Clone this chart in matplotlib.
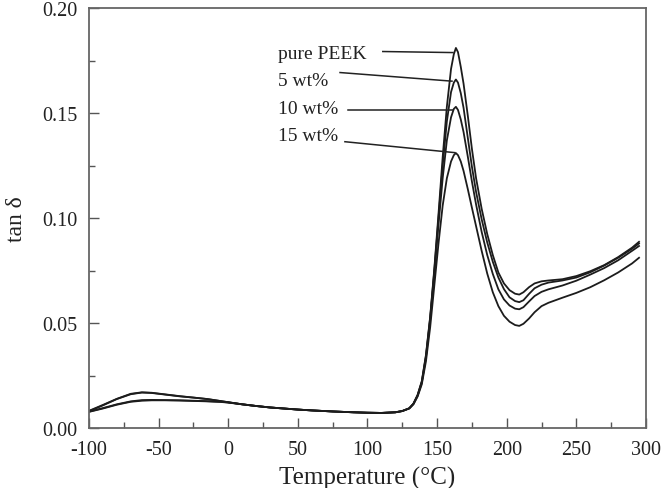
import matplotlib
matplotlib.use('Agg')
import matplotlib.pyplot as plt
from matplotlib.ticker import MultipleLocator, FormatStrFormatter

plt.rcParams['font.family'] = ['Liberation Serif', 'DejaVu Serif']
plt.rcParams['axes.unicode_minus'] = False

# temperature grid (°C)
temp = [-100, -90, -80, -70, -62, -55, -45, -35, -25, -15,
        -5, 0, 10, 20, 30, 40, 50, 60, 75, 90,
        100, 110, 120, 125, 130, 133, 136, 139, 142, 145,
        148, 151, 154, 157, 160, 162, 163.5, 165, 167, 169,
        172, 175, 178, 182, 186, 190, 194, 198, 202, 206,
        209, 212, 216, 220, 225, 230, 240, 250, 260, 270,
        280, 290, 295]

# tan delta
pure_peek = [0.0082, 0.0110, 0.0140, 0.0163, 0.0171, 0.0169, 0.0161, 0.0153, 0.0147, 0.0140,
             0.0130, 0.0125, 0.0115, 0.0107, 0.0100, 0.0095, 0.0090, 0.0086, 0.0081, 0.0077,
             0.0075, 0.0074, 0.0077, 0.0083, 0.0096, 0.0118, 0.0160, 0.0225, 0.0350, 0.0530,
             0.0760, 0.1020, 0.1290, 0.1530, 0.1710, 0.1780, 0.1810, 0.1790, 0.1720, 0.1640,
             0.1490, 0.1330, 0.1190, 0.1045, 0.0925, 0.0825, 0.0742, 0.0690, 0.0658, 0.0641,
             0.0637, 0.0648, 0.0672, 0.0690, 0.0700, 0.0704, 0.0710, 0.0725, 0.0748, 0.0777,
             0.0815, 0.0860, 0.0888]
wt5 = [0.0084, 0.0112, 0.0141, 0.0165, 0.0172, 0.0170, 0.0162, 0.0154, 0.0147, 0.0140,
       0.0130, 0.0125, 0.0115, 0.0107, 0.0100, 0.0095, 0.0090, 0.0086, 0.0081, 0.0077,
       0.0075, 0.0074, 0.0077, 0.0083, 0.0096, 0.0118, 0.0158, 0.0222, 0.0345, 0.0525,
       0.0750, 0.1000, 0.1250, 0.1460, 0.1600, 0.1645, 0.1660, 0.1645, 0.1595, 0.1525,
       0.1385, 0.1245, 0.1125, 0.0995, 0.0885, 0.0793, 0.0718, 0.0663, 0.0624, 0.0606,
       0.0601, 0.0610, 0.0640, 0.0667, 0.0684, 0.0694, 0.0704, 0.0718, 0.0743, 0.0775,
       0.0812, 0.0855, 0.0880]
wt10 = [0.0080, 0.0097, 0.0115, 0.0129, 0.0135, 0.0136, 0.0135, 0.0134, 0.0132, 0.0130,
        0.0127, 0.0124, 0.0115, 0.0107, 0.0100, 0.0095, 0.0090, 0.0086, 0.0081, 0.0077,
        0.0075, 0.0074, 0.0077, 0.0083, 0.0096, 0.0117, 0.0156, 0.0218, 0.0338, 0.0515,
        0.0735, 0.0970, 0.1190, 0.1370, 0.1480, 0.1520, 0.1530, 0.1515, 0.1470, 0.1410,
        0.1295, 0.1175, 0.1065, 0.0935, 0.0825, 0.0735, 0.0662, 0.0614, 0.0585, 0.0570,
        0.0567, 0.0577, 0.0604, 0.0630, 0.0650, 0.0662, 0.0680, 0.0703, 0.0732, 0.0763,
        0.0800, 0.0845, 0.0868]
wt15 = [0.0079, 0.0095, 0.0113, 0.0127, 0.0132, 0.0134, 0.0134, 0.0133, 0.0131, 0.0129,
        0.0126, 0.0123, 0.0115, 0.0107, 0.0100, 0.0095, 0.0090, 0.0086, 0.0081, 0.0077,
        0.0075, 0.0074, 0.0077, 0.0083, 0.0095, 0.0115, 0.0152, 0.0210, 0.0320, 0.0480,
        0.0680, 0.0880, 0.1060, 0.1190, 0.1270, 0.1300, 0.1310, 0.1300, 0.1270, 0.1225,
        0.1140, 0.1050, 0.0962, 0.0845, 0.0737, 0.0648, 0.0582, 0.0536, 0.0508, 0.0492,
        0.0488, 0.0498, 0.0523, 0.0553, 0.0582, 0.0598, 0.0622, 0.0645, 0.0672, 0.0705,
        0.0742, 0.0785, 0.0812]

series = [pure_peek, wt5, wt10, wt15]
names = ['pure PEEK', '5 wt%', '10 wt%', '15 wt%']

# label text baseline and leader line end points (data units)
label_x = 35.9
label_y = [0.1760, 0.1632, 0.1502, 0.1371]
leader_start = [(111.0, 0.1793), (80.3, 0.1693), (86.0, 0.1517), (83.8, 0.1364)]
leader_end = [(161.4, 0.1788), (160.7, 0.1652), (161.4, 0.1517), (162.8, 0.1312)]

fig = plt.figure(figsize=(6.62, 4.89), dpi=100)
ax = fig.add_axes([0.1344, 0.1217, 0.8414, 0.8599])

for s in series:
    ax.plot(temp, s, color='#1c1c1c', lw=1.3)

for i in range(len(names)):
    ax.text(label_x, label_y[i], names[i], fontsize=14, ha='left', va='baseline', color='#222222')
    ax.plot([leader_start[i][0], leader_end[i][0]], [leader_start[i][1], leader_end[i][1]],
            color='#222222', lw=1.1)

ax.set_xlim(-100, 300)
ax.set_ylim(0, 0.20)
ax.xaxis.set_major_locator(MultipleLocator(50))
ax.xaxis.set_minor_locator(MultipleLocator(25))
ax.yaxis.set_major_locator(MultipleLocator(0.05))
ax.yaxis.set_minor_locator(MultipleLocator(0.025))
ax.yaxis.set_major_formatter(FormatStrFormatter('%.2f'))
ax.tick_params(which='both', direction='in', top=False, right=False, color='#555555',
               labelsize=14.5, labelcolor='#222222')
ax.tick_params(which='major', length=7, width=1, pad=8)
ax.tick_params(which='minor', length=4, width=1)
for sp in ax.spines.values():
    sp.set_color('#666666')
    sp.set_linewidth(1.3)

ax.set_xlabel('Temperature (°C)', fontsize=18, color='#222222', labelpad=5)
ax.set_ylabel('tan δ', fontsize=17, color='#222222', labelpad=11)

fig.savefig('out.png', dpi=100)
